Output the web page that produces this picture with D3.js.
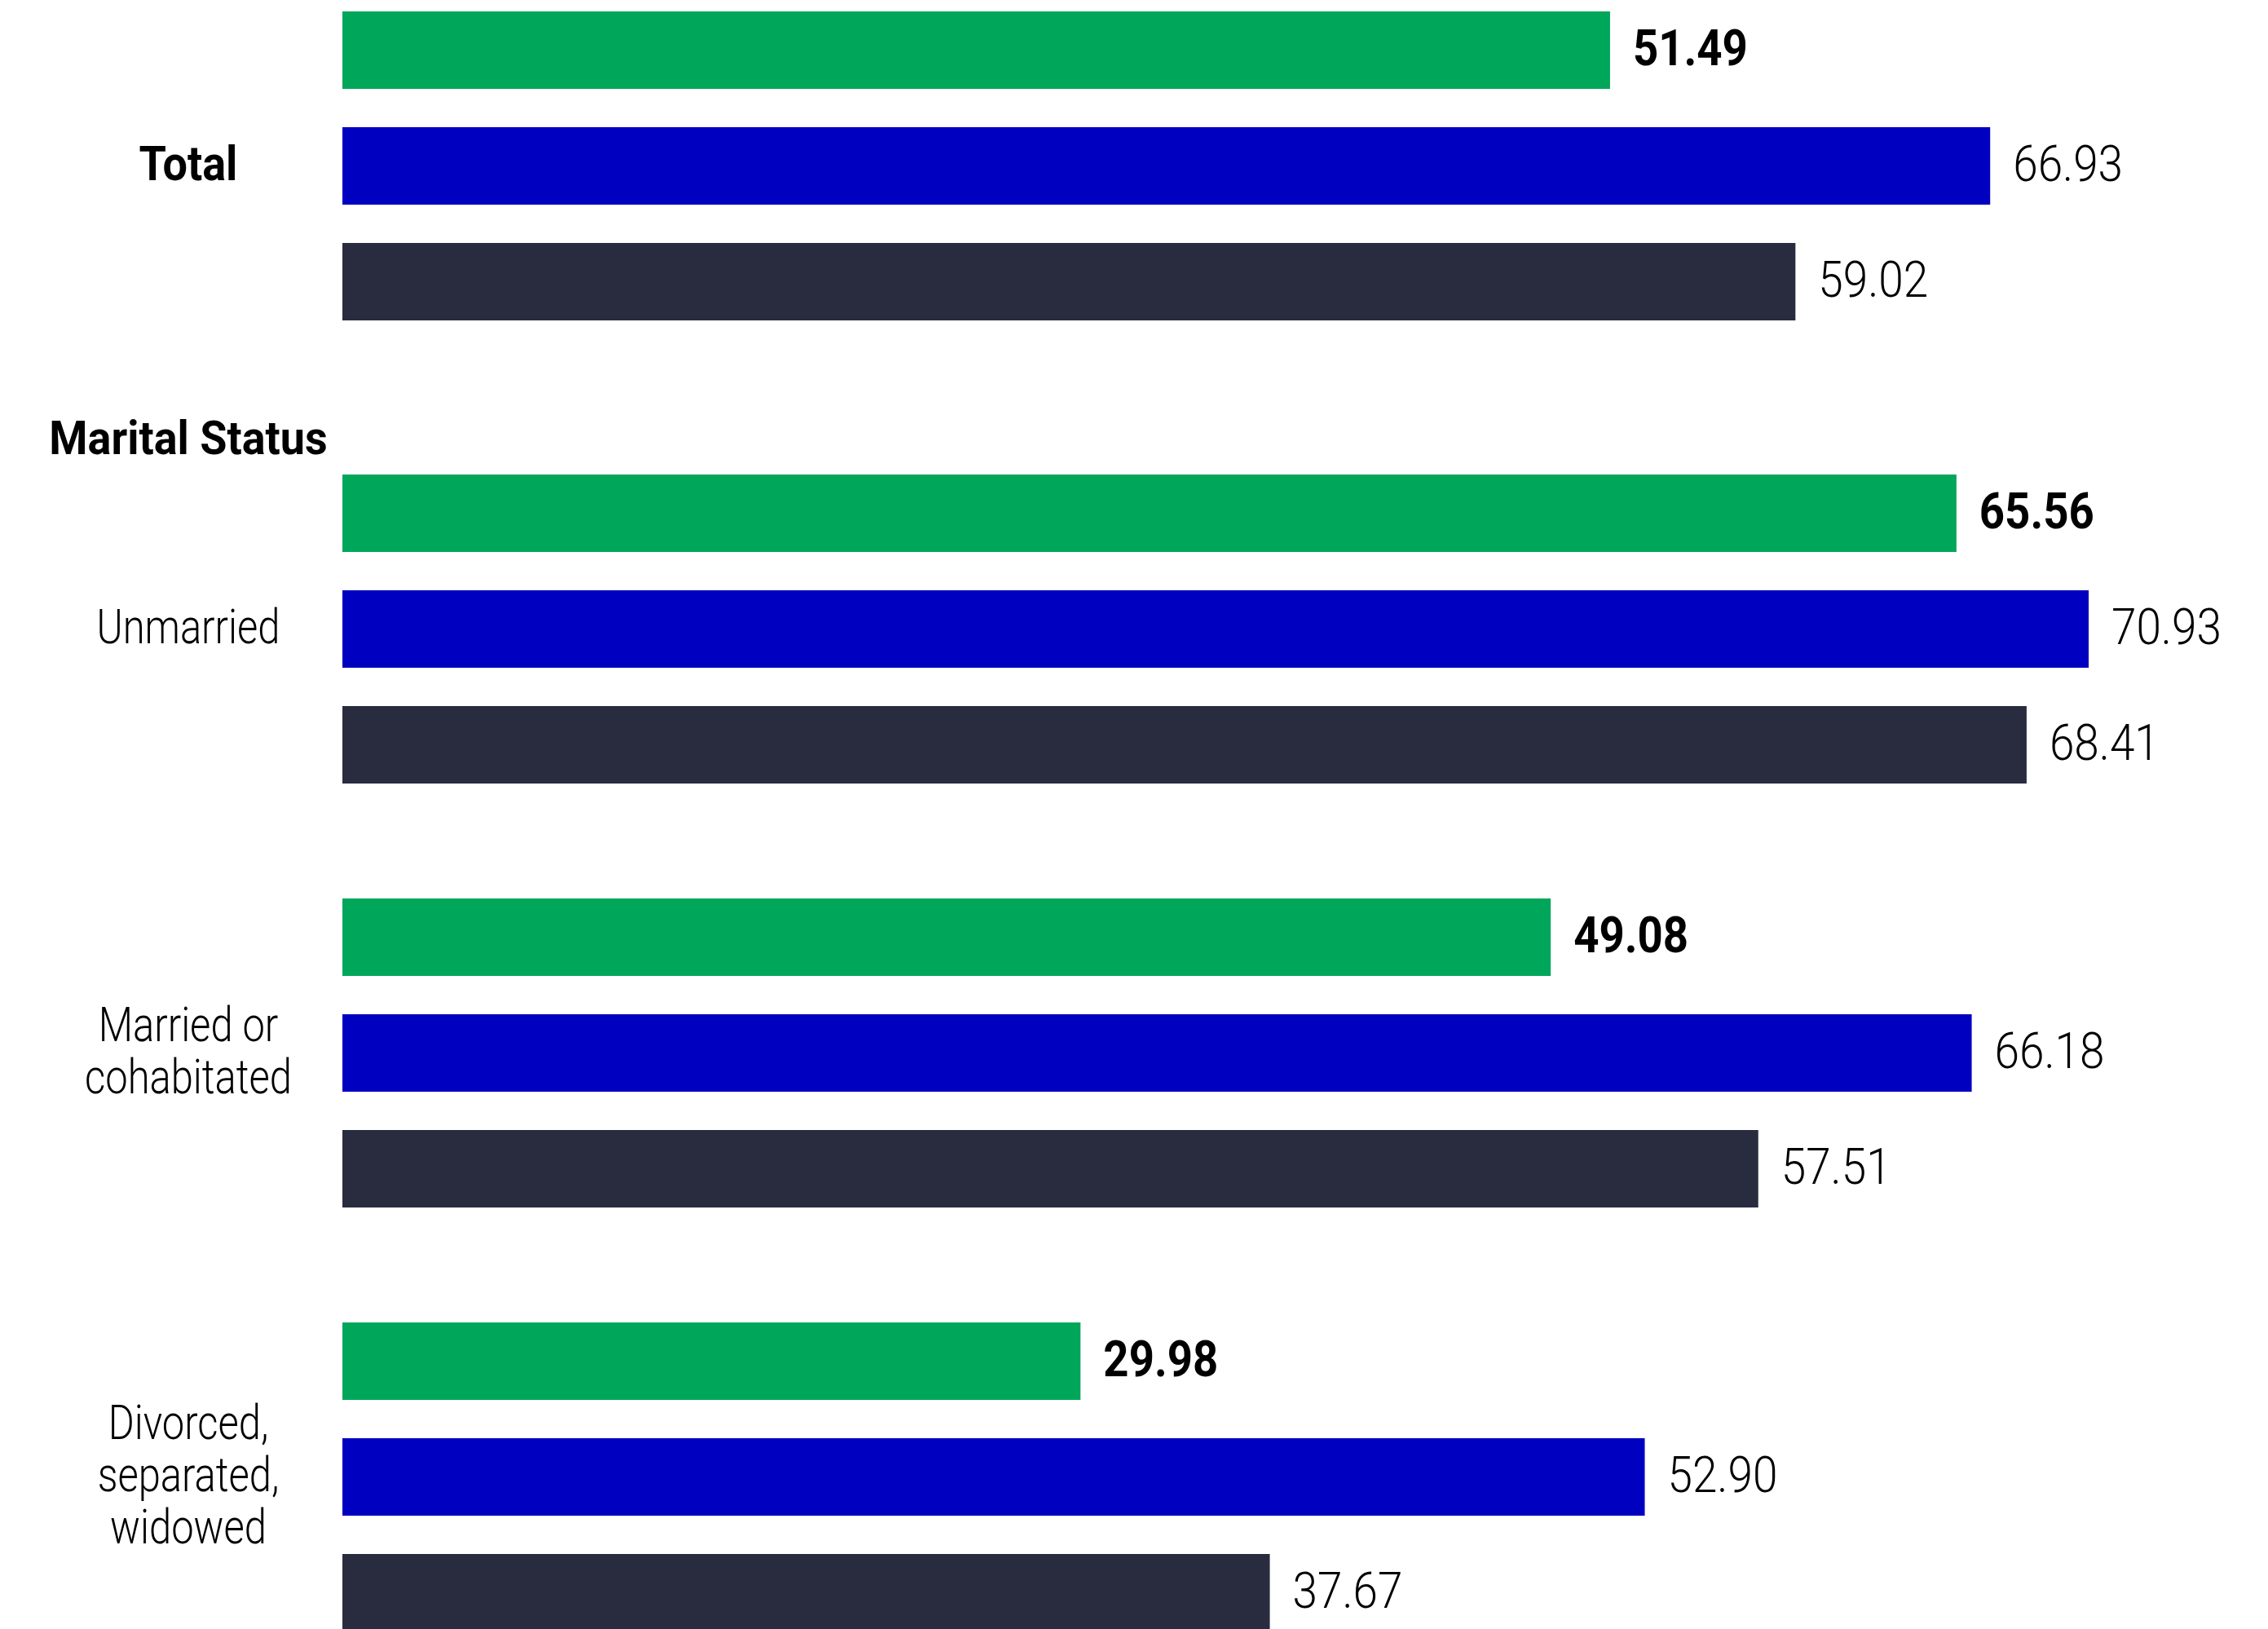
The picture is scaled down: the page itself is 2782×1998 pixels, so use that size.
<!DOCTYPE html>
<html>
<head>
<meta charset="utf-8">
<script src="https://cdn.jsdelivr.net/npm/d3@7"></script>
<style>
  html, body { margin: 0; padding: 0; background: #ffffff; }
  svg { display: block; }
  text { font-family: "Roboto", "DejaVu Sans Condensed", sans-serif; }
</style>
</head>
<body>
<svg id="chart" width="2782" height="1998"></svg>
<script>
// ---- data ----
const categories = ["Total", "Unmarried", "Married or cohabitated", "Divorced, separated, widowed"];
const categoryLines = [["Total"], ["Unmarried"], ["Married or", "cohabitated"], ["Divorced,", "separated,", "widowed"]];
const seriesKeys = ["green", "blue", "dark"];
const greenValues = [51.49, 65.56, 49.08, 29.98];
const blueValues = [66.93, 70.93, 66.18, 52.90];
const darkValues = [59.02, 68.41, 57.51, 37.67];
const sectionTitle = "Marital Status";

// ---- styles ----
const colors = { green: "#00a65a", blue: "#0000c0", dark: "#292c3f" };
const W = 2782, H = 1998;
const barX0 = 420;
const TEXT_DY = -3;

const svg = d3.select("#chart");
svg.append("rect").attr("width", W).attr("height", H).attr("fill", "#fff");

// condensed text helper: places text at (x,y) with a horizontal squeeze
function ctext(parent, x, y, str, opts) {
  return parent.append("text")
    .attr("transform", `translate(${x},${y}) scale(${opts.sx},1)`)
    .attr("text-anchor", opts.anchor || "start")
    .attr("dominant-baseline", opts.baseline || "central")
    .attr("font-size", opts.size)
    .attr("font-weight", opts.bold ? 700 : 300)
    .attr("fill", "#000")
    .text(str);
}

const seriesVals = { green: greenValues, blue: blueValues, dark: darkValues };
const maxVal = d3.max([...greenValues, ...blueValues, ...darkValues]);
const x = d3.scaleLinear().domain([0, maxVal]).range([barX0, 2562]);

// group top positions
const groupY = d3.scaleBand().domain(categories.slice(1)).range([582, 2142]).paddingInner(0).paddingOuter(0);
const groupTop = c => c === categories[0] ? 14 : groupY(c);

// bars within group
const inner = d3.scaleBand().domain(seriesKeys).range([0, 379]).paddingInner(0.331).paddingOuter(0);

const rows = [];
categories.forEach((c, i) => {
  seriesKeys.forEach(k => rows.push({ cat: c, idx: i, key: k, value: seriesVals[k][i] }));
});

const g = svg.append("g");
g.selectAll("rect.bar").data(rows).join("rect")
  .attr("class", "bar")
  .attr("x", x(0))
  .attr("y", d => groupTop(d.cat) + inner(d.key))
  .attr("width", d => x(d.value) - x(0))
  .attr("height", inner.bandwidth())
  .attr("fill", d => colors[d.key]);

const vg = svg.append("g");
rows.forEach(d => {
  const bold = d.key === "green";
  ctext(vg, x(d.value) + 28, groupTop(d.cat) + inner(d.key) + inner.bandwidth() / 2 + TEXT_DY,
        d.value.toFixed(2), { size: 62, bold: bold, sx: bold ? 0.88 : 0.885 });
});

// category labels
const labelX = 231;
const lineH = 64;
const lg = svg.append("g");
categories.forEach((c, i) => {
  const cy = groupTop(c) + inner("blue") + inner.bandwidth() / 2 + TEXT_DY;
  const lines = categoryLines[i];
  lines.forEach((ln, j) => {
    ctext(lg, labelX, cy + (j - (lines.length - 1) / 2) * lineH, ln,
          { size: 60, bold: i === 0, anchor: "middle", sx: i === 0 ? 0.9 : 0.815 });
  });
});

ctext(svg, labelX, 557, sectionTitle, { size: 58, bold: true, anchor: "middle", baseline: "alphabetic", sx: 0.93 });
</script>
</body>
</html>
